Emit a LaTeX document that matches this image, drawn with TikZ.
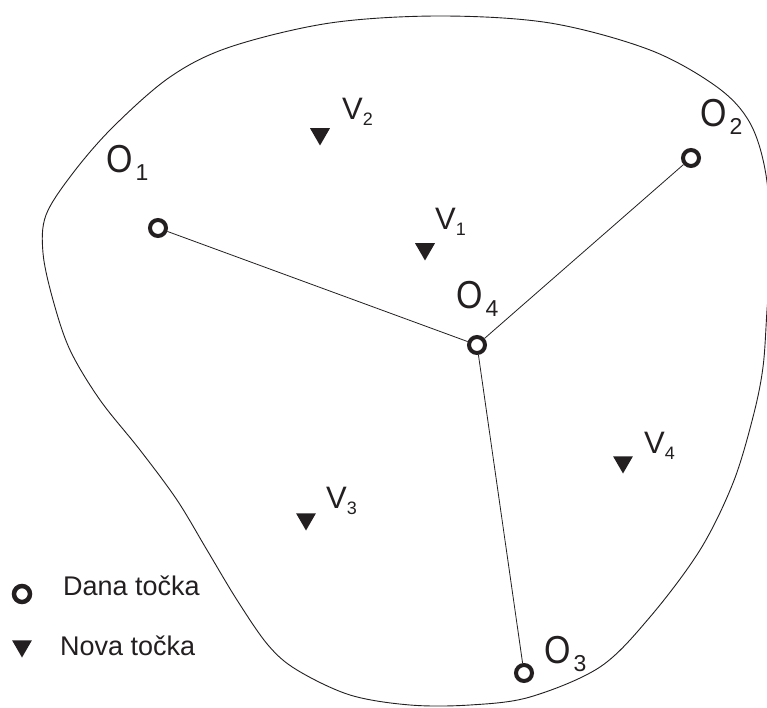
\documentclass[tikz,border=0pt]{standalone}
\usepackage{fontspec}
\setmainfont{Liberation Sans}
\usetikzlibrary{shapes.geometric}
\definecolor{ink}{HTML}{231F20}
\newcommand{\olbl}[1]{\scalebox{0.87}[1]{\fontsize{39}{39}\selectfont O}\hspace{3pt}\raisebox{-8pt}{\fontsize{23}{23}\selectfont #1}}
\newcommand{\vlbl}[1]{{\fontsize{31}{31}\selectfont V}\raisebox{-6pt}{\fontsize{18}{18}\selectfont #1}}
\tikzset{
  known/.style={circle, draw=ink, line width=4pt, minimum size=16pt, inner sep=0pt, fill=white},
  newpt/.style={regular polygon, regular polygon sides=3, shape border rotate=180, fill=ink, draw=none, minimum size=23pt, inner sep=0pt},
  lbl/.style={anchor=base west, inner sep=0pt, text=ink},
  conn/.style={draw=ink, line width=0.8pt},
  border/.style={draw=ink, line width=0.9pt}
}
\begin{document}
\begin{tikzpicture}[x=1pt,y=1pt]
\useasboundingbox (0,0) rectangle (767,707);
% boundary curve
\draw[border] plot[smooth cycle, tension=0.55] coordinates {
 (440,691) (550,684) (650,657) (717,620) (750,584) (766,532) (771,457)
 (767,397) (763,340) (753,290) (733,224) (700,157) (650,90) (600,40)
 (530,10) (470,2) (410,2) (350,12) (297,37) (268,62) (237,107) (207,157)
 (177,207) (140,257) (100,307) (70,357) (53,407) (43,454) (46,492)
 (73,534) (113,580) (170,630) (230,660) (330,684)};
% points
\node[known] (O1) at (158,479) {};
\node[known] (O2) at (691,549) {};
\node[known] (O4) at (477,362) {};
\node[known] (O3) at (524,34) {};
\node[newpt] (V1) at (425,458) {};
\node[newpt] (V2) at (320,573) {};
\node[newpt] (V3) at (306,188) {};
\node[newpt] (V4) at (623,245) {};
% connectors
\draw[conn] (O1) -- (O4);
\draw[conn] (O2) -- (O4);
\draw[conn] (O3) -- (O4);
% labels
\node[lbl] (lO1) at (106,534) {\olbl{1}};
\node[lbl] (lO2) at (700,580) {\olbl{2}};
\node[lbl] (lO4) at (456,398) {\olbl{4}};
\node[lbl] (lO3) at (544,44) {\olbl{3}};
\node[lbl] (lV1) at (435,477) {\vlbl{1}};
\node[lbl] (lV2) at (342,587) {\vlbl{2}};
\node[lbl] (lV3) at (326,199) {\vlbl{3}};
\node[lbl] (lV4) at (644,254) {\vlbl{4}};
% legend
\node[known, line width=4.5pt] (legO) at (22,113) {};
\node[newpt] (legV) at (22,61) {};
\node[lbl] (legOt) at (63,112) {\fontsize{27}{27}\selectfont Dana točka};
\node[lbl] (legVt) at (60,52) {\fontsize{27}{27}\selectfont Nova točka};
\end{tikzpicture}
\end{document}
